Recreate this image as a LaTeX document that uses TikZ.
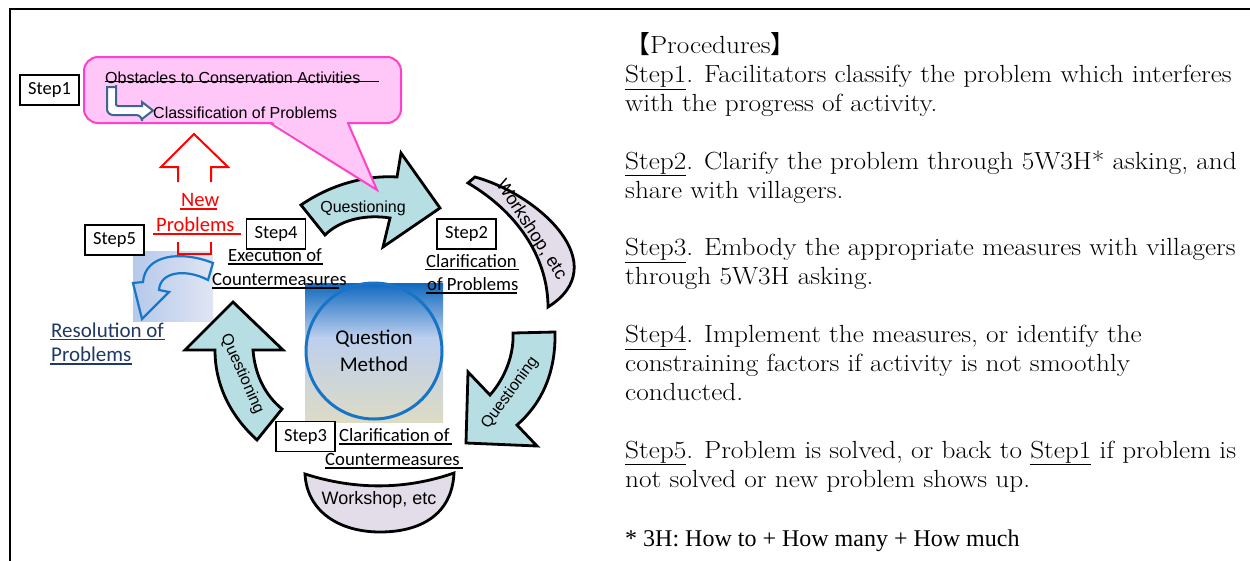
\documentclass[tikz,border=0pt]{standalone}
\usepackage{fontspec}
\newfontfamily\arialf{Liberation Sans}
\newfontfamily\calf{Carlito}
\newfontfamily\timesf{Liberation Serif}
\newfontfamily\cjkf{Noto Sans CJK SC}
\newfontfamily\bodyf[FakeStretch=1.1]{Latin Modern Roman}
\definecolor{pinkfill}{HTML}{FFC6F8}
\definecolor{pinkline}{HTML}{FF40C8}
\definecolor{tealfill}{HTML}{B7DEE2}
\definecolor{lavfill}{HTML}{E3DDEA}
\definecolor{navy}{HTML}{203864}
\definecolor{circblue}{HTML}{1874C6}
\definecolor{gtop}{HTML}{0F69BF}
\definecolor{gmid}{HTML}{BDCFEE}
\definecolor{gbot}{HTML}{DDDBC4}
\definecolor{sfl}{HTML}{B5C9EA}
\definecolor{sfr}{HTML}{E0E5F3}
\definecolor{arrblue}{HTML}{1777C9}
\definecolor{lblue}{HTML}{3E6590}
\begin{document}
\begin{tikzpicture}[x=1pt,y=-1pt,
  stepbox/.style={draw=black, line width=1.3pt, fill=white, minimum width=59pt, minimum height=30pt, inner sep=0pt, font=\calf\fontsize{18.5}{20}\selectfont},
  lab/.style={inner sep=0pt, anchor=base west, font=\calf\fontsize{18.7}{20}\selectfont},
  body/.style={inner sep=0pt, anchor=base west, font=\bodyf\fontsize{24.8}{29}\selectfont},
  qarrow/.style={draw=black, line width=2.8pt, fill=tealfill, line join=miter},
  wshop/.style={draw=black, line width=2.8pt, fill=lavfill},
  qtext/.style={inner sep=0pt, font=\arialf\fontsize{16}{18}\selectfont},
  wtext/.style={inner sep=0pt, font=\arialf\fontsize{18}{20}\selectfont},
  uline/.style={line width=1.6pt}
]
\useasboundingbox (0,0) rectangle (1250,560);
% frame
\draw[line width=2.5pt] (10,9) rectangle (1265,575);

% centre gradient and circle
\shade[top color=gtop,bottom color=gmid] (305,283) rectangle (443,338);
\shade[top color=gmid,bottom color=gbot] (305,337.5) rectangle (443,422);
\node[circle, draw=circblue, line width=3pt, minimum size=136pt, inner sep=0pt, align=center, font=\calf\fontsize{21}{27}\selectfont] (qm) at (374,351) {Question\\Method};

% step 5 resolution arrow
\shade[left color=sfl, right color=sfr] (133,251) rectangle (213,321);
\draw[draw=arrblue, line width=2.2pt, line join=miter] (213,263) .. controls (180,250) and (145,255) .. (143,282) -- (133,283) -- (142,319) -- (169,292) -- (159,290) .. controls (160,272) and (185,268) .. (208,280) -- cycle;

% questioning arrows
\draw[qarrow] (301,205) .. controls (330,185) and (365,175) .. (397,177) -- (401,153) -- (440,208) -- (383,247) -- (390,218) .. controls (365,214) and (340,220) .. (325,235) -- cycle;
\draw[qarrow] (513,333) -- (555,332) .. controls (556,375) and (540,405) .. (517,425) -- (537,446) -- (466,443) -- (468,372) -- (490,395) .. controls (505,378) and (514,355) .. (513,333) -- cycle;
\draw[qarrow] (233,302) -- (283,350) -- (253,350) .. controls (255,375) and (265,395) .. (282,409) -- (257,440) .. controls (235,420) and (215,390) .. (215,350) -- (185,350) -- cycle;
\node[qtext] (q1) at (363,208) {Questioning};
\node[qtext, rotate=54] (q2) at (510,393) {Questioning};
\node[qtext, rotate=-66] (q3) at (242,374) {Questioning};

% workshops
\draw[wshop] (468,183) -- (475,177) .. controls (540,195) and (615,265) .. (548,307) .. controls (548,262) and (522,215) .. (468,183) -- cycle;
\draw[wshop] (305,474) .. controls (355,490) and (405,490) .. (454,473) .. controls (452,515) and (420,532) .. (380,532) .. controls (340,532) and (307,512) .. (305,474) -- cycle;
\node[wtext, rotate=-57] (w1) at (531,230) {Workshop, etc};
\node[wtext] (w2) at (379,500) {Workshop, etc};

% callout
\draw[draw=pinkline, fill=pinkfill, line width=2pt, rounded corners=14pt] (84,57) rectangle (401,123);
\fill[pinkfill] (271.5,121.5) -- (377,190) -- (346.5,121.5) -- cycle;
\draw[draw=pinkline, line width=2pt, line join=miter] (270,123) -- (377,190) -- (348,123);
\node[inner sep=0pt, anchor=base west, font=\arialf\fontsize{16}{18}\selectfont] (obs) at (105,83) {Obstacles to Conservation Activities};
\draw[line width=1pt] (105,81.7) -- (379,81.7);
\draw[line width=2pt, draw=lblue, fill=white, line join=miter] (116,87) -- (107,87) [rounded corners=6pt] -- (107,115) -- (142,115) [sharp corners] -- (142,119) -- (153,110.5) -- (142,102) -- (142,106) [rounded corners=2pt] -- (116,106) -- (116,87) [sharp corners] -- cycle;
\node[inner sep=0pt, anchor=base west, font=\arialf\fontsize{16}{18}\selectfont] (cls) at (153,118) {Classification of Problems};

% red new problems arrow
\draw[red, line width=2pt] (178,182) -- (178,167) -- (161,167) -- (194,134) -- (228,167) -- (211,167) -- (211,182);
\draw[red, line width=2pt] (178,242) -- (178,254) -- (211,254) -- (211,242);
\node[lab, text=red, font=\calf\fontsize{20.5}{22}\selectfont] (np1) at (181,206.5) {New};
\node[lab, text=red, font=\calf\fontsize{20.5}{22}\selectfont] (np2) at (156,231.5) {Problems};
\draw[uline, red] (180,209) -- (217,209);
\draw[uline, red] (153,234) -- (241,234);

% resolution text
\node[lab, text=navy, font=\calf\fontsize{21}{23}\selectfont] (rs1) at (51,337) {Resolution of};
\node[lab, text=navy, font=\calf\fontsize{21}{23}\selectfont] (rs2) at (51,361.5) {Problems};
\draw[uline, navy] (50,339.5) -- (165,339.5);
\draw[uline, navy] (50,364) -- (132,364);

% step labels
\node[lab] (ex1) at (228,261.5) {Execution of};
\node[lab] (ex2) at (212,285.5) {Countermeasures};
\draw[uline] (228,264) -- (323,264);
\draw[uline] (212,288) -- (339,288);
\node[lab] (cp1) at (426,267.5) {Clarification};
\node[lab] (cp2) at (427,290.5) {of Problems};
\draw[uline] (425,269.5) -- (519,269.5);
\draw[uline] (426,293) -- (517,293);
\node[lab] (cc1) at (339,441.5) {Clarification of};
\node[lab] (cc2) at (325,465.5) {Countermeasures};
\draw[uline] (339,444) -- (452,444);
\draw[uline] (325,468) -- (463,468);

% step boxes
\node[stepbox] (s1) at (49.5,90) {Step1};
\node[stepbox] (s5) at (114.5,240) {Step5};
\node[stepbox] (s4) at (276,234) {Step4};
\node[stepbox] (s2) at (466.5,234) {Step2};
\node[stepbox] (s3) at (305.5,436.5) {Step3};

% procedures text
\node[body] (l0) at (625,53) {{\cjkf 【}Procedures{\cjkf 】}};
\node[body] (l1) at (625,82.5) {\underline{Step1}. Facilitators classify the problem which interferes};
\node[body] (l2) at (625,111.4) {with the progress of activity.};
\node[body] (l3) at (625,169.2) {\underline{Step2}. Clarify the problem through 5W3H* asking, and};
\node[body] (l4) at (625,198.1) {share with villagers.};
\node[body] (l5) at (625,255.9) {\underline{Step3}. Embody the appropriate measures with villagers};
\node[body] (l6) at (625,284.8) {through 5W3H asking.};
\node[body] (l7) at (625,342.6) {\underline{Step4}. Implement the measures, or identify the};
\node[body] (l8) at (625,371.5) {constraining factors if activity is not smoothly};
\node[body] (l9) at (625,400.4) {conducted.};
\node[body] (l10) at (625,458.2) {\underline{Step5}. Problem is solved, or back to \underline{Step1} if problem is};
\node[body] (l11) at (625,487.1) {not solved or new problem shows up.};
\node[body, font=\timesf\fontsize{24}{29}\selectfont] (l12) at (625,546) {* 3H: How to + How many + How much};
\end{tikzpicture}
\end{document}
